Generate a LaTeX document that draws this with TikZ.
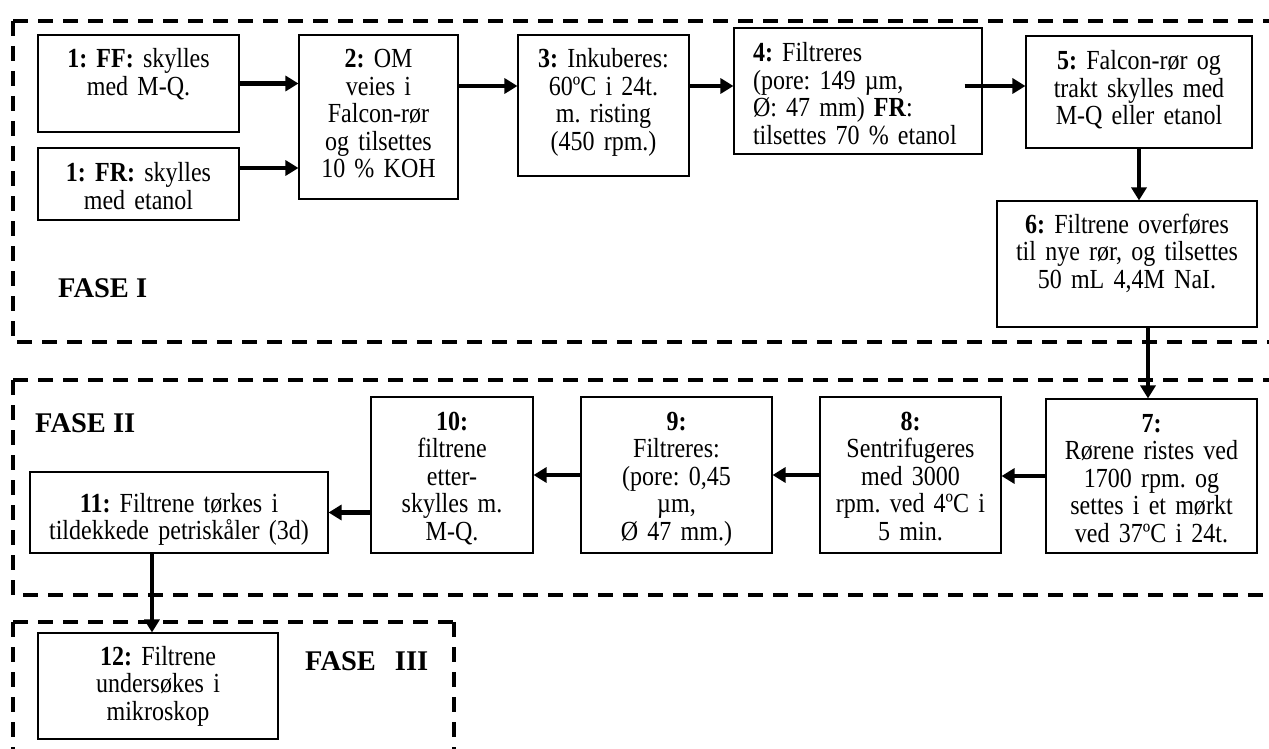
\documentclass[tikz,border=0pt]{standalone}
\usepackage{fontspec}
\setmainfont{Liberation Serif}
\newfontfamily\boxfont[FakeStretch=0.87]{Liberation Serif}
\frenchspacing
\usetikzlibrary{arrows.meta}
\newcommand{\boxsize}{\boxfont\fontsize{27.6}{27.5}\selectfont\spaceskip=5.6pt plus 1pt minus 1pt\relax}
\begin{document}
\begin{tikzpicture}[x=1pt,y=-1pt,
  stepbox/.style={draw=black, line width=1.1pt, inner sep=0pt, align=center, anchor=base, font=\boxsize},
  arr/.style={line width=4.5pt, -{Triangle[length=13pt,width=15pt]}},
  phase/.style={line width=3.5pt, dash pattern=on 15pt off 10pt},
  fase/.style={anchor=base west, inner sep=0pt, font=\fontsize{28.5}{30}\selectfont\bfseries}]
\useasboundingbox (0,0) rectangle (1269,749);
% phase frames
\draw[phase] (13,21) -- (1295,21);
\draw[phase] (13,21) -- (13,342) -- (1295,342);
\draw[phase] (13,380) -- (1295,380);
\draw[phase] (13,380) -- (13,595) -- (1295,595);
\draw[phase] (13,622) -- (454,622);
\draw[phase] (13,622) -- (13,770);
\draw[phase] (454,622) -- (454,770);
% labels
\node[fase] (f1) at (58,297) {FASE I};
\node[fase] (f2) at (35,432) {FASE II};
\node[fase] (f3) at (305,670) {FASE\hspace{19pt}III};
% boxes
\node[stepbox, text width=201pt, text height=33pt, text depth=64pt] (ff) at (138.5,68) {\textbf{1: FF:} skylles\\med M-Q.};
\node[stepbox, text width=201pt, text height=34pt, text depth=38pt] (fr) at (138.5,182) {\textbf{1: FR:} skylles\\med etanol};
\node[stepbox, text width=159pt, text height=33pt, text depth=131pt] (b2) at (378.5,68) {\textbf{2:} OM\\veies i\\Falcon-rør\\og tilsettes\\10 \% KOH};
\node[stepbox, text width=171pt, text height=33pt, text depth=108pt] (b3) at (603.5,68) {\textbf{3:} Inkuberes:\\60ºC i 24t.\\m. risting\\(450 rpm.)};
\node[stepbox, align=left, inner xsep=19pt, text width=210pt, text height=34pt, text depth=92pt] (b4) at (858,62) {\textbf{4:} Filtreres\\(pore: 149 µm,\\Ø: 47 mm) \textbf{FR}:\\tilsettes 70 \% etanol};
\node[stepbox, text width=226pt, text height=34pt, text depth=78pt] (b5) at (1139,70) {\textbf{5:} Falcon-rør og\\trakt skylles med\\M-Q eller etanol};
\node[stepbox, text width=260pt, text height=32pt, text depth=94pt] (b6) at (1127,233) {\textbf{6:} Filtrene overføres\\til nye rør, og tilsettes\\50 mL 4,4M NaI.};
\node[stepbox, text width=211pt, text height=33pt, text depth=121pt] (b7) at (1151.5,432) {\textbf{7:}\\Rørene ristes ved\\1700 rpm. og\\settes i et mørkt\\ved 37ºC i 24t.};
\node[stepbox, text width=181pt, text height=33pt, text depth=123pt] (b8) at (910.5,430) {\textbf{8:}\\Sentrifugeres\\med 3000\\rpm. ved 4ºC i\\5 min.};
\node[stepbox, text width=191pt, text height=33pt, text depth=123pt] (b9) at (676.5,430) {\textbf{9:}\\Filtreres:\\(pore: 0,45\\µm,\\Ø 47 mm.)};
\node[stepbox, text width=162pt, text height=33pt, text depth=123pt] (b10) at (452,430) {\textbf{10:}\\filtrene\\etter-\\skylles m.\\M-Q.};
\node[stepbox, text width=298pt, text height=40pt, text depth=41pt] (b11) at (179,512) {\textbf{11:} Filtrene tørkes i\\tildekkede petriskåler (3d)};
\node[stepbox, text width=240pt, text height=32pt, text depth=74pt] (b12) at (158,665) {\textbf{12:} Filtrene\\undersøkes i\\mikroskop};
% helper coordinates
\coordinate (r1) at (0,86);
\coordinate (c67) at (1148,0);
\coordinate (c1112) at (152,0);
\path (b4.east |- r1) coordinate (t45a);
% connectors
\draw[arr] (ff.east) -- (ff.east -| b2.west);
\draw[arr] ([yshift=16pt]fr.east) -- ([yshift=16pt]fr.east -| b2.west);
\draw[arr] (b2.east |- r1) -- (b3.west |- r1);
\draw[arr] (b3.east |- r1) -- (b4.west |- r1);
\draw[arr] ([xshift=-18pt]t45a) -- (b5.west |- r1);
\draw[arr] (b5.south) -- (b5.south |- b6.north);
\draw[arr] (b6.south -| c67) -- (b7.north -| c67);
\draw[arr] (b7.west) -- (b7.west -| b8.east);
\draw[arr] (b8.west) -- (b8.west -| b9.east);
\draw[arr] (b9.west) -- (b9.west -| b10.east);
\draw[arr] (b11.east -| b10.west) -- (b11.east);
\draw[arr] (b11.south -| c1112) -- (b12.north -| c1112);
\end{tikzpicture}
\end{document}
